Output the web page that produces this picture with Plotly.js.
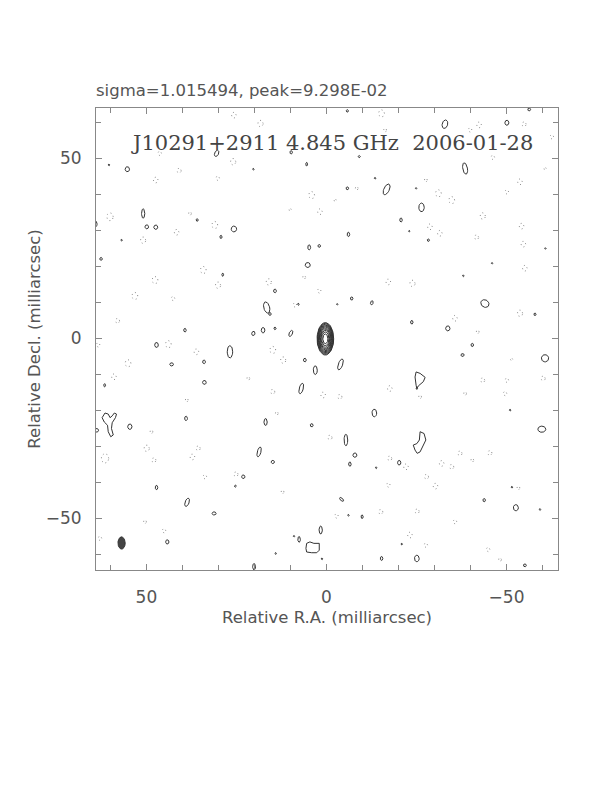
<!DOCTYPE html>
<html>
<head>
<meta charset="utf-8">
<script src="https://cdn.plot.ly/plotly-3.0.1.min.js"></script>
<style>html,body{margin:0;padding:0;background:#fff}#chart{width:612px;height:792px}</style>
</head>
<body>
<div id="chart"></div>
<script>
// ---------- data (milliarcsec) ----------
const plotTitle = "sigma=1.015494, peak=9.298E-02";
const sourceLabel = "J10291+2911 4.845 GHz  2006-01-28";
const xTitle = "Relative R.A. (milliarcsec)";
const yTitle = "Relative Decl. (milliarcsec)";
const majorTicks = [50, 0, -50];

// central component: nested contour ellipses (relative size of each level)
const srcX = 0.3, srcY = -0.2, srcRx = 2.3, srcRy = 4.5;
const srcLevels = [1.0, 0.953, 0.905, 0.853, 0.798, 0.739, 0.674, 0.603, 0.522, 0.426, 0.302];

// restoring beam
const beamX = 56.9, beamY = -56.9, beamRx = 1.0, beamRy = 1.7;

// positive noise contours (solid): centre, semi-axes, tilt (deg)
const posX = [55.3,50.9,49.9,47.4,64.3,35.9,25.7,29.3,62.6,30.5,9.8,5.5,20.3,4.8,2.0,5.2,28.8,14.3,16.6,15.7,39.3,20.3,17.6,14.3,9.9,7.8,
  -5.8,-32.9,-50.1,-56.3,-9.1,-38.5,-16.7,-24.9,-5.8,-26.4,-20.7,-23.0,-6.1,-28.3,-60.8,-46.0,-7.0,-12.6,-3.0,-44.0,-57.9,-23.7,-33.7,
  47.2,26.8,34.0,43.0,6.0,3.1,61.6,33.9,7.0,63.8,54.6,39.0,16.9,4.1,18.7,14.9,23.1,25.3,47.2,38.7,31.2,44.2,1.6,7.6,9.0,20.1,1.25,
  -3.9,-40.5,-37.8,-60.7,-13.3,-59.8,-5.4,-7.9,-6.5,-20.2,-4.2,-43.8,-52.6,-9.9,-15.3,-25.1,-55.1,
  -51.5,-25.1,-51.0,-59.3,-20.9,-13.8,-6.1,14.1,-38.0,-13.5,56.9,60.4];
const posY = [46.9,34.6,30.9,30.8,31.7,32.8,30.3,28.1,22.0,51.3,51.6,48.3,46.9,25.2,25.6,20.3,17.6,13.1,8.5,6.7,2.2,1.3,2.2,2.7,1.3,9.4,
  63.1,59.4,59.8,63.5,50.4,47.1,41.3,41.6,41.6,36.3,32.8,29.7,28.8,27.2,24.9,20.8,11.0,9.8,9.4,9.6,6.6,4.4,2.7,
  -1.9,-3.8,-6.6,-7.3,-6.1,-8.9,-13.1,-12.3,-14.0,-25.6,-24.6,-22.3,-23.3,-24.2,-31.6,-34.4,-38.5,-41.1,-41.5,-45.6,-48.7,-56.6,-53.3,-55.9,-55.0,-63.5,-61.3,
  -7.3,-1.9,-4.7,-5.6,-20.8,-25.3,-28.3,-32.5,-35.0,-34.6,-44.8,-45.0,-47.1,-49.6,-61.2,-61.2,-63.1,
  -41.4,-14.0,-20.0,-47.6,-57.2,-36.0,-49.2,-59.8,17.3,44.4,27.2,48.1];
const posRx = [.6,.45,.5,.55,.6,.3,.75,.3,.35,.55,.35,.25,.2,.4,.35,.7,.25,.4,.8,.35,.35,.45,.5,.3,.45,.2,
  .3,.75,.55,.4,.3,.65,.75,.2,.35,.75,.35,.2,.35,.3,.2,.2,.35,.35,.2,1.2,.3,.35,.6,
  .5,.75,.4,.5,.4,.55,.25,.5,.55,.5,.6,.4,.45,.4,.5,.45,.45,.25,.35,.55,.55,.45,.45,.35,.2,.4,.2,
  .6,.35,.45,1.0,.65,1.1,.5,.55,.35,.45,.35,.35,.7,.3,.35,.65,.4,
  .2,.2,.2,.2,.2,.2,.2,.2,.2,.2,.2,.2];
const posRy = [.7,1.3,.55,.6,.9,.35,.8,.45,.4,.9,.45,.5,.25,.7,.4,.7,.45,.5,1.6,.4,.5,.6,.75,.35,.9,.3,
  .35,1.2,.7,.4,.3,1.6,1.6,.2,.4,1.2,.55,.2,.6,.35,.2,.2,.45,.6,.2,1.0,.35,.5,.7,
  .7,1.7,.5,.45,.5,1.2,.45,.55,1.5,.5,.75,.6,.95,.45,1.4,.45,.5,.3,.6,1.2,.45,.6,1.1,.8,.2,.9,.25,
  1.6,.45,.4,1.0,1.05,.85,1.6,.6,.6,.65,.7,.45,.85,.5,.55,.9,.4,
  .25,.25,.25,.25,.25,.25,.25,.25,.25,.25,.25,.25];
const posTilt = [0,0,0,0,0,0,0,0,0,25,0,0,0,0,0,0,0,0,-15,0,0,15,0,0,25,0,
  0,15,0,0,0,-10,25,0,0,0,0,0,0,0,0,0,0,15,0,35,0,0,0,
  0,0,0,0,0,0,0,0,15,0,0,0,0,0,15,0,0,0,0,20,0,0,0,0,0,0,0,
  20,0,0,30,0,0,0,0,0,0,-45,0,0,0,0,0,0,
  0,0,0,0,0,0,0,0,0,0,0,0];

// irregular positive contours traced as outlines
const blobLeftX = [61.5,60.6,60.1,59.5,58.9,58.3,58.6,59.5,59.7,59.2,59.9,60.6,60.8,61.7,62.3,61.5];
const blobLeftY = [-20.8,-21.1,-22.1,-21.6,-20.8,-21.1,-22.1,-23.5,-25.1,-26.9,-27.4,-26.0,-24.2,-23.3,-22.1,-20.8];
const blobTriX = [-24.9,-26.0,-27.4,-26.9,-25.5,-25.1,-24.9,-24.6,-24.9];
const blobTriY = [-9.4,-9.8,-10.9,-12.1,-13.3,-14.0,-13.1,-10.8,-9.4];
const blobHookX = [-26.0,-27.1,-27.6,-26.9,-26.0,-25.2,-24.6,-24.1,-25.1,-25.8,-26.0,-26.0];
const blobHookY = [-26.0,-26.5,-28.3,-29.7,-31.6,-32.0,-31.1,-29.7,-29.3,-28.3,-26.9,-26.0];
const blobBoxX = [5.5,4.6,3.5,2.0,2.0,2.7,4.1,5.5,5.7,5.5];
const blobBoxY = [-57.0,-56.6,-57.0,-57.0,-58.9,-59.6,-59.6,-59.4,-58.4,-57.0];

// negative noise contours (dotted): centre and size
const negX = [25.7,18.3,46.3,25.9,40.9,47.4,30.2,4.1,1.8,10.1,60.1,37.9,31.0,41.6,50.9,34.2,47.6,30.1,16.0,6.2,53.2,42.6,8.75,2.0,58.0,
  -15.3,-16.3,-42.4,-54.9,-46.2,-60.7,-8.4,-53.75,-34.8,-50.1,-27.6,-31.1,-2.4,-43.4,-28.75,-31.5,-41.7,-54.2,-54.7,-55.1,-23.9,-17.2,-35.7,-53.75,-42.0,
  63.4,43.9,36.1,14.9,12.0,55.1,59.0,21.7,14.9,0.9,38.8,13.8,48.6,49.9,61.5,47.9,37.2,35.6,25.1,33.75,12.2,50.4,62.9,45.1,
  -3.75,-17.6,-26.0,-38.5,-43.4,-50.1,-49.6,-60.2,-51.4,-1.0,-17.6,-22.1,-32.0,-34.8,-37.1,-40.5,-45.4,-27.8,-30.3,-17.2,-53.3,
  -2.8,-15.1,-25.2,-35.7,-23.2,-44.9,-48.2,-27.6,-39.9,-62.6];
const negY = [61.9,59.6,51.3,49.0,46.5,43.9,44.4,39.7,35.1,35.7,33.7,34.6,31.4,29.4,27.2,18.9,16.1,14.7,15.6,16.9,11.7,11.0,9.2,13.1,4.8,
  62.4,57.8,59.2,59.4,50.2,47.1,41.6,43.4,38.3,40.6,43.9,40.2,38.3,33.9,30.9,29.1,28.0,31.1,26.1,19.4,15.2,15.6,5.5,6.9,1.75,
  -1.9,-1.7,-3.8,-3.3,-6.1,-7.0,-10.75,-11.2,-14.9,-15.8,-17.2,-20.9,-26.0,-30.6,-33.4,-33.9,-33.0,-30.6,-37.8,-38.5,-42.7,-51.0,-55.6,-53.5,
  -16.3,-14.0,-16.3,-15.4,-11.7,-11.7,-15.4,-11.2,-5.9,-27.6,-33.4,-35.75,-34.8,-35.75,-32.0,-33.9,-31.9,-38.5,-41.1,-40.8,-41.6,
  -49.4,-48.25,-48.1,-51.0,-54.7,-58.7,-61.5,-57.5,57.8,55.9];
const negR = [0.8,0.9,0.6,0.9,0.7,0.8,0.6,1.0,0.8,0.4,1.1,0.5,1.0,0.8,0.9,1.0,1.0,0.9,0.9,0.5,1.0,0.6,0.6,0.6,0.7,
  1.0,0.5,0.8,0.7,0.6,0.4,0.5,0.8,1.0,0.6,0.5,1.0,0.4,0.9,0.8,0.8,0.7,0.8,0.8,0.8,0.9,0.8,0.8,0.9,0.5,
  0.6,1.0,0.8,1.0,0.9,1.0,0.8,0.5,0.7,0.8,0.5,0.5,0.5,0.9,1.3,0.7,0.8,0.7,0.7,0.6,0.5,0.5,0.6,0.6,
  0.7,0.8,0.5,0.5,0.7,0.6,0.6,0.7,0.4,0.7,0.7,0.8,0.8,0.7,0.7,0.5,0.7,0.7,0.8,0.6,0.5,
  0.6,0.7,0.7,0.6,0.8,0.6,0.5,0.6,0.6,0.6];

// ---------- geometry helpers ----------
function ellipsePath(cx, cy, rx, ry, tiltDeg, n) {
  // axis is reversed in x (RA increases to the left), so a screen offset dx maps to -dx
  const t = tiltDeg * Math.PI / 180, xs = [], ys = [];
  for (let i = 0; i <= n; i++) {
    const a = 2 * Math.PI * i / n;
    const ex = rx * Math.cos(a), ey = ry * Math.sin(a);
    const sx = ex * Math.cos(t) + ey * Math.sin(t);
    const sy = -ex * Math.sin(t) + ey * Math.cos(t);
    xs.push(cx - sx); ys.push(cy + sy);
  }
  return [xs, ys];
}
function collect(list) {
  const X = [], Y = [];
  list.forEach(([xs, ys]) => { X.push(...xs, null); Y.push(...ys, null); });
  return [X, Y];
}

const posPaths = posX.map((x, i) => ellipsePath(x, posY[i], posRx[i], posRy[i], posTilt[i], 28));
posPaths.push([blobLeftX, blobLeftY], [blobTriX, blobTriY], [blobHookX, blobHookY], [blobBoxX, blobBoxY]);
const [pX, pY] = collect(posPaths);
const [nX, nY] = collect(negX.map((x, i) => ellipsePath(x, negY[i], negR[i] * 0.8, negR[i], 0, 20)));
const [sX, sY] = collect(srcLevels.map(s => ellipsePath(srcX, srcY, srcRx * s, srcRy * s, 0, 48)));
const [bX, bY] = ellipsePath(beamX, beamY, beamRx, beamRy, 0, 40);

const traces = [
  {x: nX, y: nY, mode: 'lines', line: {color: '#8a8a8a', width: 1, dash: '1px,3px'}, hoverinfo: 'skip'},
  {x: pX, y: pY, mode: 'lines', line: {color: '#333', width: 1}, hoverinfo: 'skip'},
  {x: sX, y: sY, mode: 'lines', line: {color: '#333', width: 1}, hoverinfo: 'skip'},
  {x: bX, y: bY, mode: 'lines', fill: 'toself', fillcolor: '#444', line: {color: '#333', width: 1}, hoverinfo: 'skip'}
];

const axisFont = {family: 'DejaVu Sans', size: 17, color: '#555'};
const titleFont = {family: 'DejaVu Sans', size: 16.5, color: '#555'};
const commonAxis = {
  showgrid: false, zeroline: false, showline: true, linecolor: '#888', linewidth: 1, mirror: 'ticks',
  ticks: 'inside', ticklen: 6, tickcolor: '#888', tickwidth: 1,
  tickvals: majorTicks, tickfont: axisFont,
  minor: {dtick: 10, tick0: 0, ticks: 'inside', ticklen: 5, tickcolor: '#888', tickwidth: 1}
};

const layout = {
  width: 612, height: 792,
  margin: {l: 96, r: 54, t: 108, b: 222},
  paper_bgcolor: '#fff', plot_bgcolor: '#fff',
  showlegend: false,
  title: {text: plotTitle, font: {family: 'DejaVu Sans', size: 16.5, color: '#555'},
          xref: 'paper', x: 0, xanchor: 'left', yref: 'container', y: 1 - 90/792, yanchor: 'middle'},
  xaxis: Object.assign({}, commonAxis, {range: [64.0, -64.3], ticklabelstandoff: 12,
    title: {text: xTitle, font: titleFont, standoff: 5}}),
  yaxis: Object.assign({}, commonAxis, {range: [-64.4, 63.9], ticklabelstandoff: 10,
    title: {text: yTitle, font: titleFont, standoff: 0}}),
  annotations: [{
    text: sourceLabel, xref: 'paper', yref: 'paper', x: 0.51, y: 0.924, xanchor: 'center', yanchor: 'middle',
    showarrow: false, font: {family: 'DejaVu Serif', size: 21, color: '#444'}
  }]
};

Plotly.newPlot('chart', traces, layout, {staticPlot: true, displayModeBar: false});
</script>
</body>
</html>
